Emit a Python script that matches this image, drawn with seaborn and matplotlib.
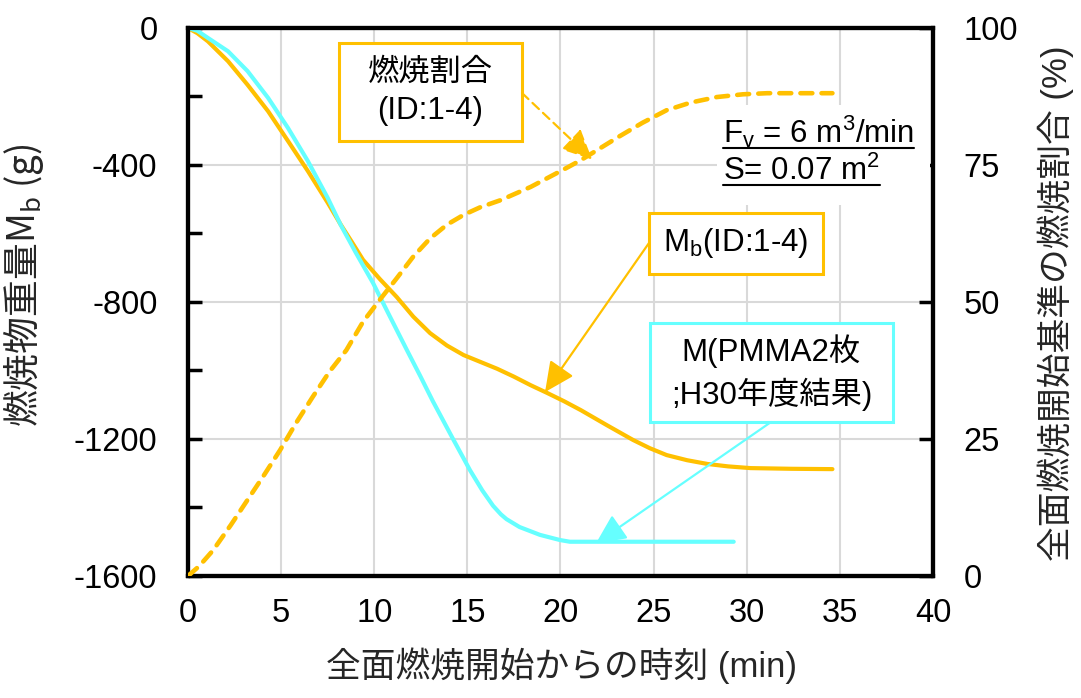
import matplotlib
matplotlib.use("Agg")
import matplotlib.pyplot as plt
import seaborn as sns
from matplotlib.patches import Rectangle
from matplotlib.lines import Line2D
from matplotlib.transforms import IdentityTransform
from matplotlib.ticker import MultipleLocator

# ---- data -------------------------------------------------------------
# burning-object mass M_b (ID:1-4), g
t_mb = [0, 0.5, 1.07, 2.15, 3.2, 4.3, 5.37, 6.44, 7.5, 8.2, 8.8, 9.4, 10.3,
        11.2, 12.1, 13.0, 13.9, 14.8, 15.7, 16.6, 17.5, 18.4, 19.3, 20.2,
        21.1, 22.5, 23.9, 24.8, 25.7, 26.8, 27.9, 29.0, 30.2, 32.4, 34.6]
mass_mb = [0, -15, -39, -97, -166, -243, -330, -418, -510, -574, -625, -677,
           -733, -785, -843, -891, -927, -955, -975, -995, -1018, -1043,
           -1066, -1090, -1116, -1160, -1203, -1227, -1247, -1262, -1273,
           -1280, -1285, -1287, -1288]

# mass M (PMMA x2, FY H30 result), g
t_pmma = [0, 0.5, 1.07, 2.15, 3.2, 4.3, 5.37, 6.44, 7.5, 8.2, 9.0, 9.94,
          10.8, 11.75, 12.46, 13.15, 14.23, 15.14, 15.8, 16.38, 16.8, 17.1,
          17.8, 18.9, 19.97, 20.5, 25.0, 29.3]
mass_pmma = [0, -8, -29, -68, -126, -204, -292, -389, -496, -575, -655,
             -745, -838, -940, -1015, -1090, -1200, -1291, -1350, -1395,
             -1420, -1434, -1457, -1480, -1495, -1500, -1500, -1500]

# burn fraction relative to full-surface ignition (ID:1-4), %
t_ratio = [0, 0.6, 1.35, 2.3, 3.2, 4.1, 4.95, 5.8, 6.7, 7.6, 8.5, 9.4, 10.3,
           11.2, 12.1, 13.0, 13.9, 14.8, 15.7, 16.8, 18.4, 19.4, 20.4, 21.1,
           22.1, 23.1, 24.4, 25.7, 27.0, 28.4, 29.8, 31.1, 32.8, 34.6]
burn_ratio = [0, 1.8, 4.7, 9.3, 13.9, 18.5, 23.0, 27.9, 32.7, 37.3, 41.2,
              46.4, 50.4, 54.3, 58.3, 61.6, 64.1, 65.9, 67.3, 68.6, 71.0,
              72.8, 74.6, 75.9, 78.0, 80.1, 82.7, 85.0, 86.4, 87.4, 87.9,
              88.1, 88.1, 88.1]

x_ticks = [0, 5, 10, 15, 20, 25, 30, 35, 40]
left_ticks = [-1600, -1200, -800, -400, 0]
right_ticks = [0, 25, 50, 75, 100]

# ---- style ------------------------------------------------------------
sns.set_theme(style="white")
plt.rcParams["font.family"] = ["Liberation Sans", "Noto Sans CJK JP"]
plt.rcParams["axes.unicode_minus"] = False
plt.rcParams["text.color"] = "black"

ORANGE = "#FFC000"
CYAN = "#66FFFF"
GRID = "#d9d9d9"
TICK_FS = 23.5
LABEL_FS = 25
NOTE_FS = 22.5

fig = plt.figure(figsize=(10.81, 6.98), dpi=100)
ax = fig.add_axes([0.1739, 0.1748, 0.6892, 0.7851])
ax2 = ax.twinx()

# ---- curves -----------------------------------------------------------
sns.lineplot(x=t_mb, y=mass_mb, ax=ax, color=ORANGE, lw=3.0,
             errorbar=None, solid_capstyle="round",
             solid_joinstyle="round", zorder=3)
sns.lineplot(x=t_pmma, y=mass_pmma, ax=ax, color=CYAN, lw=3.0,
             errorbar=None, solid_capstyle="round",
             solid_joinstyle="round", zorder=4)
sns.lineplot(x=t_ratio, y=burn_ratio, ax=ax2, color=ORANGE, lw=3.3,
             errorbar=None, zorder=3)
ratio_line = ax2.lines[-1]
ratio_line.set_linestyle((0, (2.6, 2.0)))
ratio_line.set_dash_capstyle("round")

# ---- axes -------------------------------------------------------------
ax.set_xlim(0, 40)
ax.set_ylim(-1600, 0)
ax2.set_ylim(0, 100)
ax.set_xticks(x_ticks)
ax.set_yticks(left_ticks)
ax.yaxis.set_minor_locator(MultipleLocator(200))
ax2.set_yticks(right_ticks)

ax.grid(True, which="major", color=GRID, lw=1.5)
ax.set_axisbelow(True)

for a in (ax, ax2):
    for s in a.spines.values():
        s.set_color("black")
        s.set_linewidth(3)

ax.tick_params(axis="both", which="both", direction="in", length=10,
               width=2.5, colors="black", labelsize=TICK_FS)
ax.tick_params(axis="y", which="both", right=False, pad=22)
ax.tick_params(axis="x", which="both", top=False, pad=16)
ax2.tick_params(axis="y", direction="in", length=10, width=2.5,
                colors="black", labelsize=TICK_FS, pad=22)

ax.set_xlabel("全面燃焼開始からの時刻 (min)", fontsize=LABEL_FS)
ax.set_ylabel("燃焼物重量M$_\\mathregular{b}$ (g)", fontsize=26.5,
              fontfamily="Noto Sans CJK JP")
ax2.set_ylabel("全面燃焼開始基準の燃焼割合 (%)", fontsize=LABEL_FS)
ax.xaxis.set_label_coords(0.502, -0.13)
ax.yaxis.set_label_coords(-0.19, 0.53)
ax2.yaxis.set_label_coords(1.14, 0.497)

# ---- annotations ------------------------------------------------------
T = ax2.transAxes
head = "-|>,head_length=0.8,head_width=0.38"
HEAD_SCALE = 23

# burn fraction label
ax2.add_patch(Rectangle((0.2027, 0.7938), 0.2456, 0.1788, transform=T,
                        fc="white", ec=ORANGE, lw=2.2, zorder=6,
                        clip_on=False))
ax2.text(0.3255, 0.8832, "燃焼割合\n(ID:1-4)", transform=T, ha="center",
         va="center", ma="center", fontsize=NOTE_FS, linespacing=1.35,
         zorder=7)
ax2.annotate("", xy=(21.7, 76), xycoords="data",
             xytext=(0.4483, 0.8814), textcoords="axes fraction",
             arrowprops=dict(arrowstyle=head, color=ORANGE, lw=1.6,
                             linestyle=(0, (4, 2.5)), shrinkA=0, shrinkB=0,
                             mutation_scale=HEAD_SCALE), zorder=7)

# M_b label
ax2.add_patch(Rectangle((0.6188, 0.5511), 0.2335, 0.1113, transform=T,
                        fc="white", ec=ORANGE, lw=2.2, zorder=6,
                        clip_on=False))
ax2.text(0.7356, 0.6068, "M$_\\mathregular{b}$(ID:1-4)", transform=T,
         ha="center", va="center", fontsize=NOTE_FS, zorder=7)
ax2.annotate("", xy=(19.17, -1063), xycoords=ax.transData,
             xytext=(0.6188, 0.6077), textcoords="axes fraction",
             arrowprops=dict(arrowstyle=head, color=ORANGE, lw=1.6,
                             shrinkA=0, shrinkB=0,
                             mutation_scale=HEAD_SCALE), zorder=7)

# PMMA label
ax2.add_patch(Rectangle((0.6201, 0.2810), 0.3262, 0.1807, transform=T,
                        fc="white", ec=CYAN, lw=2.2, zorder=6,
                        clip_on=False))
ax2.text(0.7832, 0.3714, "M(PMMA2枚\n;H30年度結果)", transform=T,
         ha="center", va="center", ma="center", fontsize=NOTE_FS,
         linespacing=1.35, zorder=7)
ax2.annotate("", xy=(21.9, -1505), xycoords=ax.transData,
             xytext=(0.7826, 0.2810), textcoords="axes fraction",
             arrowprops=dict(arrowstyle=head, color=CYAN, lw=1.6,
                             shrinkA=0, shrinkB=0,
                             mutation_scale=HEAD_SCALE), zorder=7)

# test condition note
ax2.add_patch(Rectangle((0.710, 0.677), 0.286, 0.1825, transform=T,
                        fc="white", ec="none", zorder=5))
cond1 = ax2.text(0.7181, 0.790,
                 "F$_\\mathregular{v}$ = 6 m$^\\mathregular{3}$/min",
                 transform=T, ha="left", va="baseline", fontsize=NOTE_FS,
                 zorder=7)
cond2 = ax2.text(0.7181, 0.7226, "S= 0.07 m$^\\mathregular{2}$",
                 transform=T, ha="left", va="baseline", fontsize=NOTE_FS,
                 zorder=7)

# underline the condition lines
fig.canvas.draw()
renderer = fig.canvas.get_renderer()
for txt in (cond1, cond2):
    bb = txt.get_window_extent(renderer)
    base_y = txt.get_transform().transform(txt.get_position())[1]
    fig.add_artist(Line2D([bb.x0, bb.x1], [base_y - 5, base_y - 5],
                          transform=IdentityTransform(), color="black",
                          lw=1.5))

fig.savefig("out.png", dpi=100)
